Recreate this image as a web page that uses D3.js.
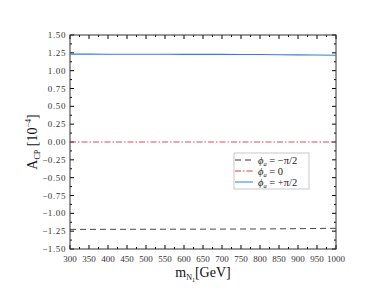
<!DOCTYPE html>
<html><head><meta charset="utf-8">
<script src="https://cdn.jsdelivr.net/npm/d3@7"></script>
<style>body{margin:0;background:#fff}svg{display:block}text{font-family:"Liberation Serif","Times New Roman",serif}</style>
</head><body>
<svg id="c" width="390" height="299"></svg>
<script>
const masses = [300,350,400,450,500,550,600,650,700,750,800,850,900,950,1000];
const acpMinus = [-1.225,-1.225,-1.224,-1.224,-1.223,-1.223,-1.222,-1.222,-1.221,-1.220,-1.219,-1.217,-1.215,-1.212,-1.210];
const acpZero  = [0,0,0,0,0,0,0,0,0,0,0,0,0,0,0];
const acpPlus  = [1.232,1.232,1.231,1.231,1.230,1.230,1.229,1.229,1.228,1.227,1.226,1.224,1.222,1.219,1.216];
const yTicks = [-1.5,-1.25,-1,-0.75,-0.5,-0.25,0,0.25,0.5,0.75,1,1.25,1.5];
const xTicks = [300,350,400,450,500,550,600,650,700,750,800,850,900,950,1000];

const svg = d3.select("#c");
const L=70,R=336,T=35,B=249;
const x = d3.scaleLinear().domain([300,1000]).range([L,R]);
const y = d3.scaleLinear().domain([-1.5,1.5]).range([B,T]);

const xMinor = d3.range(325,1000,50);
const yMinor = d3.range(-1.375,1.5,0.25);
const g = svg.append("g");
function ticksX(vals,len,yy,dir){vals.forEach(v=>g.append("line").attr("x1",x(v)).attr("x2",x(v)).attr("y1",yy).attr("y2",yy+dir*len).attr("stroke","#000").attr("stroke-width",1));}
function ticksY(vals,len,xx,dir){vals.forEach(v=>g.append("line").attr("y1",y(v)).attr("y2",y(v)).attr("x1",xx).attr("x2",xx+dir*len).attr("stroke","#000").attr("stroke-width",1));}
ticksX(xTicks,4,B,-1);ticksX(xMinor,2,B,-1);ticksX(xTicks,4,T,1);ticksX(xMinor,2,T,1);
ticksY(yTicks,4,L,1);ticksY(yMinor,2,L,1);ticksY(yTicks,4,R,-1);ticksY(yMinor,2,R,-1);

svg.append("rect").attr("x",L).attr("y",T).attr("width",R-L).attr("height",B-T).attr("fill","none").attr("stroke","#333").attr("stroke-width",1);

xTicks.forEach(v=>svg.append("text").attr("x",x(v)).attr("y",B+13).attr("text-anchor","middle").attr("font-size",9).attr("fill","#333").text(v));
yTicks.forEach(v=>svg.append("text").attr("x",L-4).attr("y",y(v)+3).attr("text-anchor","end").attr("font-size",9).attr("letter-spacing",0.6).attr("fill","#333").text(d3.format(".2f")(v).replace("-","\u2212")));

const line = d3.line().x((d,i)=>x(masses[i])).y(d=>y(d));
svg.append("path").datum(acpMinus).attr("d",line).attr("fill","none").attr("stroke","#333").attr("stroke-width",0.9).attr("stroke-dasharray","6,4");
svg.append("path").datum(acpZero).attr("d",line).attr("fill","none").attr("stroke","#e03a3a").attr("stroke-width",0.9).attr("stroke-dasharray","6,2,1.5,2");
svg.append("path").datum(acpPlus).attr("d",line).attr("fill","none").attr("stroke","#2f80dc").attr("stroke-width",1.1);

const lg = svg.append("g");
lg.append("rect").attr("x",234).attr("y",153).attr("width",75).attr("height",36).attr("fill","#fff").attr("stroke","#bbb").attr("stroke-width",0.8);
const items=[["#333","6,4","\u2212\u03c0/2"],["#e03a3a","6,2,1.5,2","0"],["#2f80dc",null,"+\u03c0/2"]];
items.forEach((it,i)=>{
  const yy=160+i*11;
  const l=lg.append("line").attr("x1",235).attr("x2",253).attr("y1",yy).attr("y2",yy).attr("stroke",it[0]).attr("stroke-width",1);
  if(it[1]) l.attr("stroke-dasharray",it[1]);
  const t=lg.append("text").attr("x",258).attr("y",yy+3.5).attr("font-size",10.5).attr("fill","#222");
  t.append("tspan").attr("font-style","italic").text("\u03d5");
  t.append("tspan").attr("font-size",6.5).attr("dy",2).attr("font-style","italic").text("a");
  t.append("tspan").attr("dy",-2).text(" = "+it[2]);
});

const xt = svg.append("text").attr("x",203).attr("y",277).attr("text-anchor","middle").attr("font-size",14).attr("fill","#111");
xt.append("tspan").text("m");
xt.append("tspan").attr("font-size",8).attr("dy",3).text("N");
xt.append("tspan").attr("font-size",6).attr("dy",1.5).text("1");
xt.append("tspan").attr("dy",-4.5).text("[GeV]");

const yt = svg.append("text").attr("transform","translate(37,142) rotate(-90)").attr("text-anchor","middle").attr("font-size",14).attr("fill","#111");
yt.append("tspan").text("A");
yt.append("tspan").attr("font-size",8).attr("dy",3).text("CP");
yt.append("tspan").attr("dy",-3).text(" [10");
yt.append("tspan").attr("font-size",8).attr("dy",-6).text("\u22124");
yt.append("tspan").attr("dy",6).text("]");
</script>
</body></html>
